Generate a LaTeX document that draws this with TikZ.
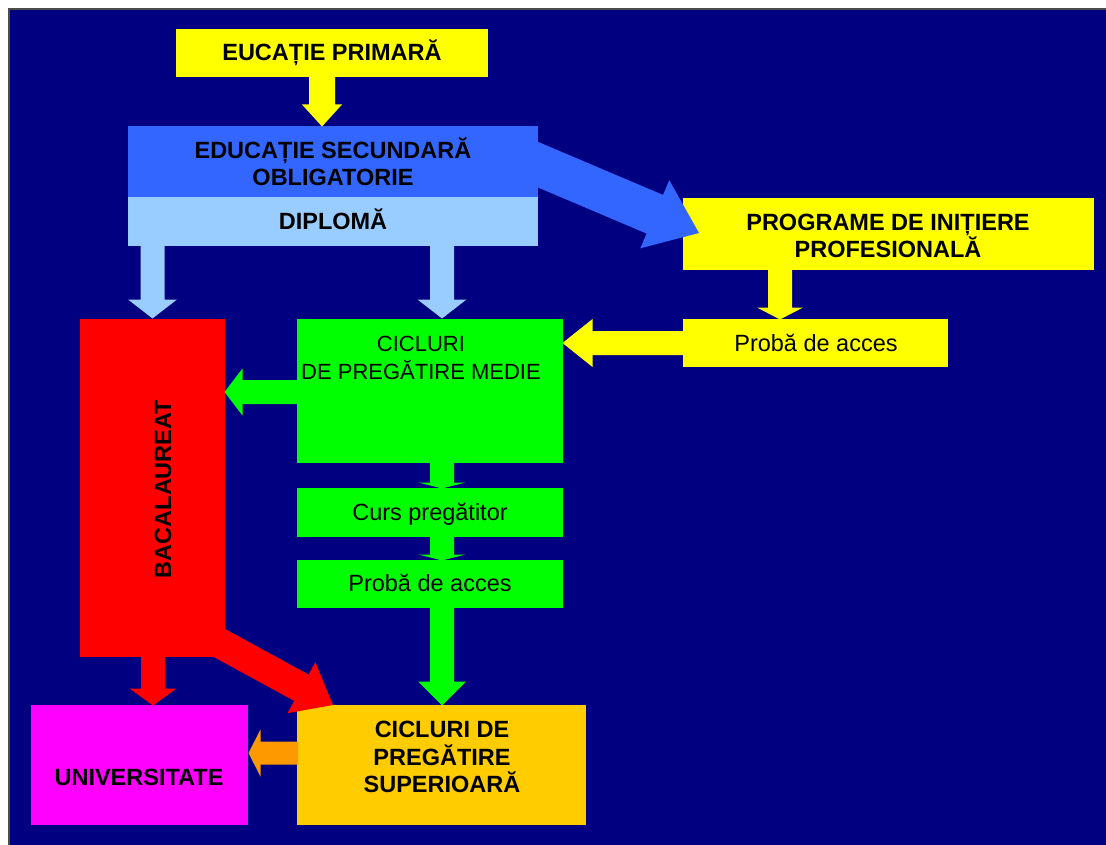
\documentclass[tikz,border=0pt]{standalone}
\usepackage{fontspec}
\setmainfont{Liberation Sans}
\usetikzlibrary{calc}
\definecolor{navy}{RGB}{0,0,128}
\definecolor{ylw}{RGB}{255,255,0}
\definecolor{bluebox}{RGB}{51,102,255}
\definecolor{lblue}{RGB}{153,204,255}
\definecolor{grn}{RGB}{0,255,0}
\definecolor{rd}{RGB}{255,0,0}
\definecolor{mag}{RGB}{255,0,255}
\definecolor{gold}{RGB}{255,204,0}
\definecolor{orng}{RGB}{255,153,0}
% block arrow: colour, start, tip, half shaft width, half head width, head length
\newcommand{\barrow}[6]{%
  \path ($(#3)!#6pt!(#2)$) coordinate (bh);
  \fill[#1] ($(#2)!#4pt!90:(#3)$) -- ($(bh)!#4pt!90:(#3)$) -- ($(bh)!#5pt!90:(#3)$) -- (#3)
    -- ($(bh)!#5pt!-90:(#3)$) -- ($(bh)!#4pt!-90:(#3)$) -- ($(#2)!#4pt!-90:(#3)$) -- cycle;
}
\begin{document}
\begin{tikzpicture}[x=1pt,y=-1pt,
  box/.style={rectangle, inner sep=0pt, draw=none, anchor=center},
  txt/.style={font=\fontsize{23.5}{27.5}\selectfont, align=center, inner sep=0pt, text=black},
  btxt/.style={font=\fontsize{23.5}{27.5}\selectfont\bfseries, align=center, inner sep=0pt, text=black}]
\useasboundingbox (0,0) rectangle (1106,845);
\fill[white] (0,0) rectangle (1106,845);
\fill[navy] (9,9) rectangle (1106,845);
\draw[gray!60!black, line width=1.5pt] (9,845) -- (9,9) -- (1106,9);

% boxes
\node[box, fill=ylw, minimum width=312pt, minimum height=48pt] (prim) at (332,53) {};
\node[box, fill=bluebox, minimum width=410pt, minimum height=71pt] (sec) at (333,161.5) {};
\node[box, fill=lblue, minimum width=410pt, minimum height=49pt] (dipl) at (333,221.5) {};
\node[box, fill=ylw, minimum width=411pt, minimum height=72pt] (prog) at (888.5,234) {};
\node[box, fill=ylw, minimum width=265pt, minimum height=48pt] (pacc) at (815.5,343) {};
\node[box, fill=grn, minimum width=266pt, minimum height=144pt] (medie) at (430,391) {};
\node[box, fill=grn, minimum width=266pt, minimum height=49pt] (curs) at (430,512.5) {};
\node[box, fill=grn, minimum width=266pt, minimum height=48pt] (pacc2) at (430,584) {};
\node[box, fill=rd, minimum width=145pt, minimum height=338pt] (bac) at (152.5,488) {};
\node[box, fill=mag, minimum width=217pt, minimum height=120pt] (univ) at (139.5,765) {};
\node[box, fill=gold, minimum width=289pt, minimum height=120pt] (sup) at (441.5,765) {};

% arrow end points
\coordinate (a1) at (322,76);   \coordinate (b1) at (322,126.5);
\coordinate (a2) at (152.5,245); \coordinate (b2) at (152.5,318.5);
\coordinate (a3) at (442,245);  \coordinate (b3) at (442,318.5);
\coordinate (a4) at (527,160);  \coordinate (b4) at (699,233);
\coordinate (a5) at (780,269);  \coordinate (b5) at (780,319.5);
\coordinate (a6) at (684,343);  \coordinate (b6) at (562.5,343);
\coordinate (a7) at (298,392);  \coordinate (b7) at (224.5,392);
\coordinate (a8) at (442,462);  \coordinate (b8) at (442,488.5);
\coordinate (a9) at (442,536);  \coordinate (b9) at (442,560.5);
\coordinate (a10) at (442,607); \coordinate (b10) at (442,705.5);
\coordinate (a11) at (153,656); \coordinate (b11) at (153,705.5);
\coordinate (a12) at (213.6,639.8); \coordinate (b12) at (333,705);
\coordinate (a13) at (298,753); \coordinate (b13) at (248.5,753);

\barrow{ylw}{a1}{b1}{13}{20}{22}
\barrow{lblue}{a2}{b2}{12}{24.5}{19}
\barrow{lblue}{a3}{b3}{12}{24.5}{19}
\barrow{bluebox}{a4}{b4}{21}{37}{48}
\barrow{ylw}{a5}{b5}{12}{23}{12}
\barrow{ylw}{a6}{b6}{12}{24}{30}
\barrow{grn}{a7}{b7}{12}{23.5}{18}
\barrow{grn}{a8}{b8}{12}{23.5}{6}
\barrow{grn}{a9}{b9}{12}{23.5}{6}
\barrow{grn}{a10}{b10}{12}{24}{24}
\barrow{rd}{a11}{b11}{12}{23.5}{17}
\barrow{rd}{a12}{b12}{15}{29}{36}
\barrow{orng}{a13}{b13}{11.5}{23.5}{12}

% texts (base anchor of a multi-line node = baseline of its last line)
\node[btxt, anchor=base] (tprim) at (332,60.5) {EUCAȚIE PRIMARĂ};
\node[btxt, anchor=base] (tsec) at (333,186) {EDUCAȚIE SECUNDARĂ\\OBLIGATORIE};
\node[btxt, anchor=base] (tdipl) at (333,229.5) {DIPLOMĂ};
\node[btxt, anchor=base] (tprog) at (888,258) {PROGRAME DE INIȚIERE\\PROFESIONALĂ};
\node[txt, anchor=base] (tpacc) at (816,351.5) {Probă de acces};
\node[txt, anchor=base, font=\fontsize{22}{28}\selectfont] (tmedie) at (421,379) {CICLURI\\DE PREGĂTIRE MEDIE};
\node[txt, anchor=base] (tcurs) at (430,520.5) {Curs pregătitor};
\node[txt, anchor=base] (tpacc2) at (430,591.5) {Probă de acces};
\node[btxt, rotate=90] (tbac) at (163,489) {BACALAUREAT};
\node[btxt] (tuniv) at (139,777) {UNIVERSITATE};
\node[btxt, anchor=base] (tsup) at (442,792.5) {CICLURI DE\\PREGĂTIRE\\SUPERIOARĂ};
\end{tikzpicture}
\end{document}
